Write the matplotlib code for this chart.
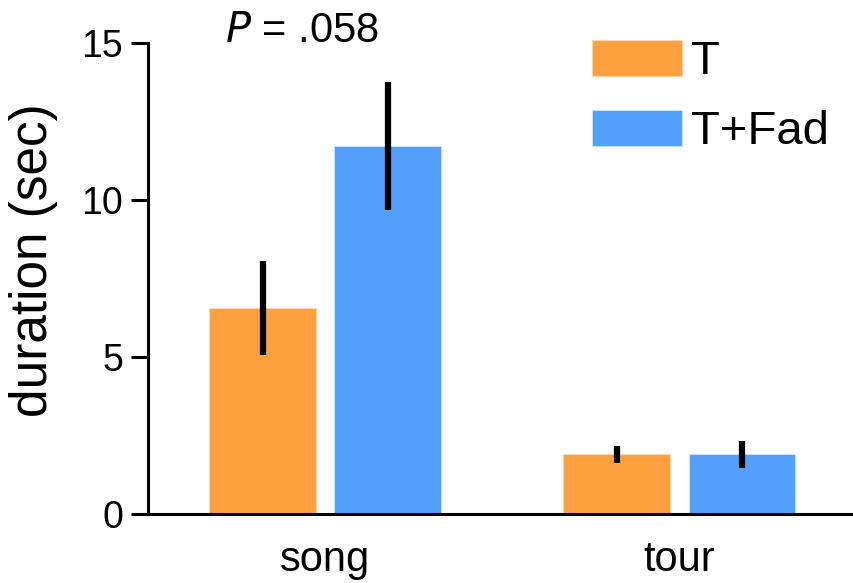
import matplotlib
matplotlib.use("Agg")
import matplotlib.pyplot as plt
import numpy as np

plt.rcParams['font.family'] = ['Liberation Sans', 'DejaVu Sans']

categories = ["song", "tour"]
groups = ["T", "T+Fad"]
means_T = [6.55, 1.90]
err_T = [1.50, 0.27]
means_TFad = [11.72, 1.90]
err_TFad = [2.04, 0.43]
y_ticks = [0, 5, 10, 15]
p_label = ".058"

orange = "#FE9F40"
blue = "#54A0FE"

fig = plt.figure(figsize=(8.54, 5.83), dpi=100)
ax = fig.add_axes([148 / 854, 69 / 583, 706 / 854, 471 / 583])

x = np.arange(len(categories))
width = 0.30
offset = 0.1766

ax.bar(x - offset, means_T, width, color=orange, label=groups[0],
       edgecolor="#FFD9B0", linewidth=0.6)
ax.bar(x + offset, means_TFad, width, color=blue, label=groups[1],
       edgecolor="#CFE3FF", linewidth=0.6)
ax.errorbar(x - offset, means_T, yerr=err_T, fmt="none", ecolor="black",
            elinewidth=4.5, capsize=0)
ax.errorbar(x + offset, means_TFad, yerr=err_TFad, fmt="none", ecolor="black",
            elinewidth=4.5, capsize=0)

ax.set_xlim(-0.5, 1.494)
ax.set_ylim(0, 15)
ax.set_yticks(y_ticks)
ax.set_yticklabels([str(v) for v in y_ticks])
ax.set_xticks(x)
ax.set_xticklabels(categories)

for side in ("top", "right"):
    ax.spines[side].set_visible(False)
for side in ("left", "bottom"):
    ax.spines[side].set_linewidth(2.2)

ax.tick_params(axis="y", length=12, width=2.2, pad=6, labelsize=27)
ax.tick_params(axis="x", length=0, pad=19, labelsize=30)
ax.set_ylabel("duration (sec)", fontsize=37)
ax.yaxis.set_label_coords(-0.127, 0.539)

ax.text(-0.066, 15.04, r"$\mathit{P}$ = " + p_label, ha="center",
        va="baseline", fontsize=30, clip_on=False)

leg = ax.legend(loc="upper left", bbox_to_anchor=(592 / 854, 1 - 40 / 583),
                bbox_transform=fig.transFigure, frameon=False, fontsize=34,
                handlelength=1.9, handleheight=0.78, handletextpad=0.2,
                labelspacing=0.55, borderpad=0, borderaxespad=0)

fig.savefig("out.png", dpi=100)
